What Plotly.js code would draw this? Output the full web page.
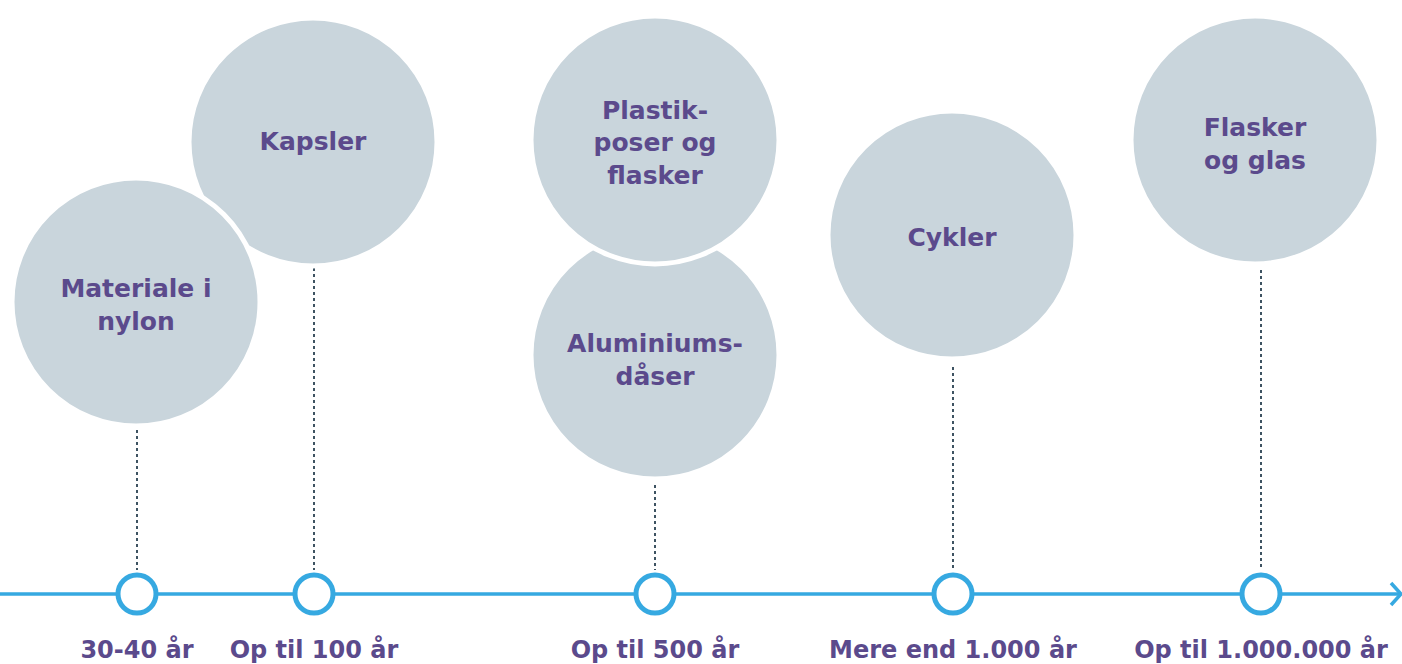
<!DOCTYPE html>
<html><head><meta charset="utf-8">
<script src="https://cdn.plot.ly/plotly-3.0.1.min.js"></script>
<style>html,body{margin:0;padding:0;background:#fff}#chart{width:1402px;height:664px}</style>
</head><body><div id="chart"></div>
<script>
// Items (bubbles) and where they sit
const bubbleLabels = ["Kapsler", "Materiale i<br>nylon", "Aluminiums-<br>dåser", "Plastik-<br>poser og<br>flasker", "Cykler", "Flasker<br>og glas"];
const bubbleX = [313, 136, 655, 655, 952, 1255];
const bubbleY = [142, 302, 355, 140, 235, 140];
const bubbleTextY = [144, 307, 362, 145, 240, 146];

// Timeline stops
const periodLabels = ["30-40 år", "Op til 100 år", "Op til 500 år", "Mere end 1.000 år", "Op til 1.000.000 år"];
const periodX = [137, 314, 655, 953, 1261];
const stemTop = [430, 268, 485, 367, 270];

const purple = "#5B4A8C", blue = "#36A9E1", grey = "#C9D5DC";
const font = "'DejaVu Sans', 'Open Sans', sans-serif";
const timelineY = 594, labelY = 652, stemBottom = 570;

const traces = [];
// dotted stems
periodX.forEach((x, i) => {
  traces.push({x:[x, x], y:[stemTop[i], stemBottom], mode:"lines", type:"scatter",
    line:{color:"#3E5362", width:2, dash:"dot"}, hoverinfo:"skip", showlegend:false});
});
// bubbles
traces.push({x:bubbleX, y:bubbleY, mode:"markers", type:"scatter",
  marker:{size:248, color:grey, line:{color:"#ffffff", width:5}}, hoverinfo:"skip", showlegend:false});
// bubble text
traces.push({x:bubbleX, y:bubbleTextY, mode:"text", type:"scatter", text:bubbleLabels,
  textfont:{family:font, size:25, color:purple, weight:"bold"}, hoverinfo:"skip", showlegend:false});
// timeline
traces.push({x:[0, 1399], y:[timelineY, timelineY], mode:"lines", type:"scatter",
  line:{color:blue, width:3.5}, hoverinfo:"skip", showlegend:false});
traces.push({x:[1391, 1401, 1391], y:[timelineY-11, timelineY, timelineY+11], mode:"lines", type:"scatter",
  line:{color:blue, width:3.5}, hoverinfo:"skip", showlegend:false});
// timeline stops
traces.push({x:periodX, y:periodX.map(()=>timelineY), mode:"markers", type:"scatter",
  marker:{size:38, color:"#ffffff", line:{color:blue, width:5}}, hoverinfo:"skip", showlegend:false});
// period labels
traces.push({x:periodX, y:periodX.map(()=>labelY), mode:"text", type:"scatter", text:periodLabels,
  textfont:{family:font, size:24, color:purple, weight:"bold"}, hoverinfo:"skip", showlegend:false});

const layout = {
  width:1402, height:664, margin:{l:0, r:0, t:0, b:0},
  paper_bgcolor:"#ffffff", plot_bgcolor:"#ffffff",
  xaxis:{range:[0, 1402], visible:false, fixedrange:true},
  yaxis:{range:[664, 0], visible:false, fixedrange:true},
  showlegend:false
};
Plotly.newPlot("chart", traces, layout, {staticPlot:true, displayModeBar:false});
</script></body></html>
